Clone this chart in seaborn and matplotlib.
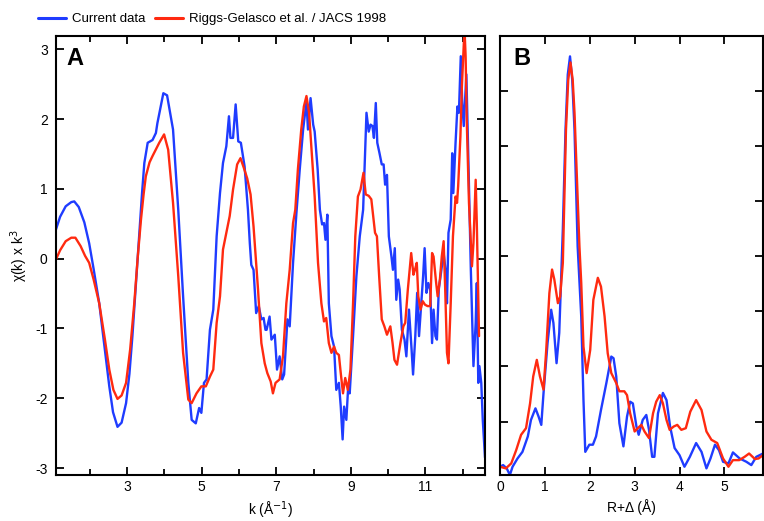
import matplotlib
matplotlib.use("Agg")
import matplotlib.pyplot as plt
import seaborn as sns
import pandas as pd
import numpy as np

# ---------------- data: panel A (chi(k) * k^3) ----------------
k_current = [1.09, 1.20, 1.35, 1.50, 1.58, 1.70, 1.85, 1.98, 2.10, 2.25, 2.40, 2.52, 2.62, 2.74, 2.85,
             2.97, 3.06, 3.14, 3.23, 3.32, 3.40, 3.46, 3.55, 3.68, 3.77, 3.81, 3.90,
             3.97, 4.07, 4.23, 4.37, 4.50, 4.64, 4.73, 4.84, 4.93, 4.99, 5.06, 5.13, 5.22, 5.31, 5.40,
             5.49, 5.57, 5.66, 5.73, 5.77, 5.84, 5.91, 5.98, 6.05, 6.15, 6.24, 6.29, 6.33, 6.39, 6.46,
             6.53, 6.60, 6.66, 6.71, 6.74, 6.82, 6.87, 6.96, 7.02, 7.09, 7.16, 7.21, 7.30, 7.36, 7.45,
             7.54, 7.63, 7.72, 7.81, 7.85, 7.92, 7.99, 8.03, 8.11, 8.17, 8.23, 8.28, 8.32, 8.37, 8.41,
             8.48, 8.55, 8.61, 8.68, 8.73, 8.78, 8.82, 8.88, 8.93, 8.97, 9.06, 9.15, 9.24, 9.33, 9.42,
             9.48, 9.53, 9.58, 9.62, 9.67, 9.71, 9.77, 9.83, 9.88, 9.92, 9.97, 10.02, 10.09, 10.13,
             10.18, 10.22, 10.27, 10.31, 10.37, 10.44, 10.49, 10.56, 10.63, 10.67, 10.73, 10.78, 10.83,
             10.89, 10.94, 10.98, 11.03, 11.08, 11.13, 11.18, 11.22, 11.27, 11.31, 11.36, 11.43, 11.49,
             11.54, 11.58, 11.62, 11.68, 11.72, 11.75, 11.81, 11.86, 11.90, 11.95, 11.99, 12.03, 12.10,
             12.16, 12.22, 12.29, 12.35, 12.38, 12.42, 12.45, 12.50, 12.54, 12.60]
chi_current = [0.42, 0.60, 0.75, 0.81, 0.82, 0.74, 0.52, 0.22, -0.15, -0.64, -1.30, -1.83, -2.20, -2.41, -2.35,
               -2.07, -1.65, -1.11, -0.40, 0.32, 0.95, 1.37, 1.66, 1.70, 1.80, 1.94, 2.18,
               2.37, 2.34, 1.85, 0.70, -0.54, -1.78, -2.31, -2.36, -2.14, -2.21, -1.78, -1.73, -1.02, -0.73, 0.32,
               0.94, 1.37, 1.61, 2.04, 1.73, 1.73, 2.21, 1.68, 1.66, 1.32, 0.70, 0.22, -0.09, -0.16, -0.78,
               -0.68, -0.87, -0.85, -1.02, -1.02, -0.83, -1.16, -1.09, -1.59, -1.40, -1.73, -1.66, -0.87, -0.97, -0.06,
               0.65, 1.28, 1.85, 2.25, 1.85, 2.30, 1.92, 1.82, 1.28, 0.70, 0.49, 0.51, 0.27, 0.63, -0.64,
               -1.11, -1.26, -1.88, -1.78, -2.12, -2.59, -2.12, -2.31, -1.83, -1.93, -1.11, -0.25, 0.32, 0.70, 2.09,
               1.82, 1.92, 1.90, 1.73, 2.23, 1.66, 1.51, 1.35, 1.35, 1.06, 1.20, 0.32, 0.03, -0.16,
               0.15, -0.59, -0.30, -0.44, -1.02, -1.16, -1.40, -0.73, -1.30, -1.66, -1.11, -0.49, -1.11,
               -0.64, -0.25, 0.15, -0.49, -0.35, -0.44, -1.21, -0.73, -1.11, -1.16, -0.44, -0.16, 0.08,
               -0.16, -0.64, 0.37, 0.56, 1.51, 0.94, 1.66, 2.18, 2.09, 2.90, 2.23, 1.90, 2.64,
               1.28, -0.16, -1.54, -0.92, -0.35, -1.78, -1.54, -1.78, -2.31, -2.85]

k_riggs = [1.09, 1.20, 1.35, 1.50, 1.61, 1.75, 1.87, 1.98, 2.10, 2.25, 2.40, 2.52, 2.63, 2.74, 2.85,
           2.97, 3.08, 3.19, 3.28, 3.37, 3.44, 3.50, 3.60, 3.68, 3.86, 3.99, 4.10, 4.23,
           4.37, 4.50, 4.64, 4.73, 4.86, 4.99, 5.11, 5.22, 5.31, 5.40, 5.49, 5.57, 5.66, 5.75, 5.84,
           5.95, 6.04, 6.13, 6.22, 6.31, 6.39, 6.51, 6.60, 6.69, 6.76, 6.85, 6.91, 6.98, 7.09, 7.18,
           7.27, 7.36, 7.45, 7.51, 7.58, 7.67, 7.74, 7.81, 7.88, 7.94, 8.03, 8.12, 8.21, 8.28, 8.34,
           8.41, 8.48, 8.55, 8.61, 8.68, 8.73, 8.79, 8.85, 8.92, 8.99, 9.06, 9.12, 9.19, 9.26, 9.34,
           9.40, 9.48, 9.55, 9.65, 9.70, 9.76, 9.83, 9.90, 9.97, 10.06, 10.12, 10.17, 10.24, 10.33,
           10.41, 10.46, 10.53, 10.62, 10.68, 10.72, 10.77, 10.81, 10.87, 10.93, 10.99, 11.06, 11.13,
           11.18, 11.22, 11.29, 11.33, 11.39, 11.44, 11.49, 11.53, 11.58, 11.62, 11.68, 11.74, 11.81,
           11.85, 11.88, 11.94, 11.98, 12.05, 12.08, 12.11, 12.17, 12.25, 12.29, 12.35, 12.38, 12.44]
chi_riggs = [-0.01, 0.12, 0.25, 0.30, 0.30, 0.18, 0.04, -0.06, -0.30, -0.64, -1.15, -1.59, -1.88, -2.01, -1.96,
             -1.78, -1.30, -0.64, 0.00, 0.56, 0.92, 1.18, 1.38, 1.47, 1.66, 1.78, 1.56, 0.80,
             -0.25, -1.35, -2.02, -2.07, -1.93, -1.83, -1.83, -1.69, -1.59, -0.92, -0.54, 0.13, 0.37, 0.61, 0.99,
             1.35, 1.44, 1.30, 1.15, 0.92, 0.46, -0.44, -1.21, -1.50, -1.64, -1.76, -1.93, -1.78, -1.73, -1.40,
             -0.64, -0.16, 0.51, 0.70, 1.28, 1.85, 2.18, 2.33, 2.09, 1.61, 0.89, -0.06, -0.64, -0.90, -0.85,
             -1.21, -1.35, -1.26, -1.35, -1.38, -1.64, -1.93, -1.71, -1.88, -1.59, -0.64, 0.32, 0.89, 0.99, 1.23,
             0.92, 0.90, 0.85, 0.37, 0.32, -0.25, -0.87, -0.97, -1.09, -0.97, -1.21, -1.45, -1.52, -1.21,
             -0.97, -0.92, -0.44, 0.08, -0.23, -0.16, -0.06, -0.54, -0.73, -0.61, -0.66, -0.68, -0.68,
             0.08, 0.03, -0.35, -0.54, -0.30, 0.03, 0.25, -0.40, -1.35, -1.50, -0.64, 0.32, 0.89,
             0.80, 1.04, 1.75, 2.47, 3.30, 2.90, 1.99, 0.80, -0.11, 0.22, 1.13, 0.51, -1.11]

# ---------------- data: panel B (Fourier transform magnitude) ----------------
r_current = [0.00, 0.07, 0.15, 0.22, 0.28, 0.39, 0.50, 0.62, 0.69, 0.79, 0.86, 0.92, 0.97, 1.06, 1.14,
             1.19, 1.26, 1.32, 1.40, 1.46, 1.51, 1.56, 1.61, 1.66, 1.73, 1.81, 1.86, 1.90, 1.99, 2.07,
             2.14, 2.25, 2.37, 2.48, 2.53, 2.59, 2.66, 2.75, 2.83, 2.90, 2.96, 3.04, 3.09, 3.18, 3.26,
             3.32, 3.39, 3.44, 3.52, 3.63, 3.71, 3.79, 3.89, 4.00, 4.11, 4.23, 4.37, 4.49, 4.60, 4.69,
             4.79, 4.88, 4.97, 5.09, 5.19, 5.34, 5.49, 5.60, 5.71, 5.86]
ft_current = [0.18, 0.21, 0.15, 0.03, 0.18, 0.33, 0.45, 0.73, 1.03, 1.24, 1.09, 0.94, 1.52, 2.43, 3.03,
              2.79, 2.06, 2.61, 4.49, 6.30, 7.30, 7.63, 7.20, 6.30, 4.18, 2.91, 1.39, 0.45, 0.58, 0.58,
              0.73, 1.21, 1.70, 2.18, 2.15, 1.82, 0.97, 0.55, 1.09, 1.36, 1.33, 0.91, 0.76, 1.03, 1.12,
              0.85, 0.36, 0.36, 1.15, 1.52, 1.39, 0.91, 0.52, 0.39, 0.18, 0.36, 0.61, 0.45, 0.15, 0.33,
              0.58, 0.48, 0.27, 0.24, 0.44, 0.33, 0.27, 0.21, 0.36, 0.42]

r_riggs = [0.00, 0.13, 0.25, 0.36, 0.47, 0.58, 0.67, 0.74, 0.82, 0.89, 0.97, 1.03, 1.10, 1.16, 1.21,
           1.29, 1.34, 1.40, 1.47, 1.52, 1.57, 1.62, 1.66, 1.77, 1.81, 1.86, 1.93, 2.01, 2.08, 2.18,
           2.25, 2.33, 2.40, 2.48, 2.59, 2.66, 2.77, 2.83, 2.90, 3.00, 3.07, 3.15, 3.22, 3.32, 3.41,
           3.48, 3.56, 3.63, 3.71, 3.78, 3.87, 3.95, 4.04, 4.14, 4.24, 4.37, 4.49, 4.60, 4.71, 4.84,
           4.97, 5.09, 5.19, 5.33, 5.45, 5.55, 5.68, 5.76, 5.86]
ft_riggs = [0.18, 0.15, 0.24, 0.48, 0.76, 0.88, 1.33, 1.82, 2.12, 1.82, 1.58, 2.30, 3.33, 3.76, 3.58,
            3.15, 3.27, 3.88, 6.30, 7.20, 7.52, 7.20, 6.61, 4.18, 3.52, 2.36, 1.88, 2.30, 3.21, 3.61,
            3.45, 2.91, 2.24, 1.88, 1.70, 1.55, 1.55, 1.48, 1.15, 0.82, 0.88, 0.94, 0.82, 0.70, 1.15,
            1.36, 1.48, 1.33, 1.03, 0.85, 0.91, 0.94, 0.85, 0.88, 1.18, 1.39, 1.21, 0.82, 0.67, 0.61,
            0.33, 0.18, 0.30, 0.30, 0.36, 0.42, 0.32, 0.33, 0.39]

series_names = ["Current data", "Riggs-Gelasco et al. / JACS 1998"]
palette = {series_names[0]: "#1f3cff", series_names[1]: "#ff2a10"}

dfA = pd.concat([
    pd.DataFrame({"x": k_current, "y": chi_current, "series": series_names[0]}),
    pd.DataFrame({"x": k_riggs, "y": chi_riggs, "series": series_names[1]}),
])
dfB = pd.concat([
    pd.DataFrame({"x": r_current, "y": ft_current, "series": series_names[0]}),
    pd.DataFrame({"x": r_riggs, "y": ft_riggs, "series": series_names[1]}),
])

sns.set_theme(style="ticks")
plt.rcParams["font.family"] = ["Liberation Sans", "DejaVu Sans"]
plt.rcParams["axes.unicode_minus"] = False
for key in ("text.color", "axes.labelcolor", "xtick.color", "ytick.color", "axes.edgecolor"):
    plt.rcParams[key] = "black"

W, H = 764, 521
fig = plt.figure(figsize=(W / 100, H / 100), dpi=100)
axA = fig.add_axes([56 / W, (H - 475) / H, (485 - 56) / W, 439 / H])
axB = fig.add_axes([500 / W, (H - 475) / H, (763 - 500) / W, 439 / H])

for ax, df in ((axA, dfA), (axB, dfB)):
    sns.lineplot(data=df, x="x", y="y", hue="series", palette=palette, ax=ax,
                 estimator=None, sort=False, linewidth=1.7, legend=(ax is axA))

# Panel A axes
axA.set_xlim(1.09, 12.6)
axA.set_ylim(-3.1, 3.19)
axA.set_xticks([3, 5, 7, 9, 11])
axA.set_xticks([2, 4, 6, 8, 10, 12], minor=True)
axA.set_yticks([-3, -2, -1, 0, 1, 2, 3])
axA.set_xlabel("k (Å$^{-1}$)", fontsize=10)
axA.set_ylabel("χ(k) x k$^3$", fontsize=10, labelpad=4)
axA.text(0.025, 0.975, "A", transform=axA.transAxes, fontsize=17, fontweight="bold",
         va="top", ha="left")

# Panel B axes
axB.set_xlim(0, 5.86)
axB.set_ylim(0.03, 8.0)
axB.set_xticks([0, 1, 2, 3, 4, 5])
axB.set_yticks([1, 2, 3, 4, 5, 6, 7])
axB.set_yticklabels([])
axB.set_xlabel("R+Δ (Å)", fontsize=10)
axB.set_ylabel("")
axB.text(0.05, 0.975, "B", transform=axB.transAxes, fontsize=17, fontweight="bold",
         va="top", ha="left")

for ax in (axA, axB):
    for s in ax.spines.values():
        s.set_linewidth(1.5)
        s.set_color("black")
    ax.tick_params(which="major", direction="in", length=6, width=1.3, top=True, right=True,
                   labelsize=10, colors="black")
    ax.tick_params(which="minor", direction="in", length=4, width=1.3, top=True, right=True)
    ax.tick_params(axis="y", pad=6)

# Legend across the top
handles, labels = axA.get_legend_handles_labels()
axA.get_legend().remove()
leg = fig.legend(handles, labels, loc="upper left", bbox_to_anchor=(38 / W, 1 - 13 / H), ncol=2,
                 frameon=False, fontsize=9.5, handlelength=2.1, columnspacing=0.7,
                 handletextpad=0.5, borderpad=0, borderaxespad=0)
for line in leg.get_lines():
    line.set_linewidth(2.2)

fig.savefig("out.png", dpi=100)
